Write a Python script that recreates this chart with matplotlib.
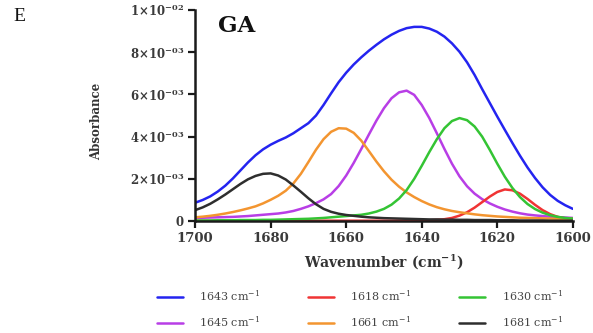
import matplotlib
matplotlib.use("Agg")
import matplotlib.pyplot as plt

# Wavenumber grid (cm^-1) shared by all traces, 1700 -> 1600 in steps of 2
wavenumber = [1700, 1698, 1696, 1694, 1692, 1690, 1688, 1686, 1684, 1682,
              1680, 1678, 1676, 1674, 1672, 1670, 1668, 1666, 1664, 1662,
              1660, 1658, 1656, 1654, 1652, 1650, 1648, 1646, 1644, 1642,
              1640, 1638, 1636, 1634, 1632, 1630, 1628, 1626, 1624, 1622,
              1620, 1618, 1616, 1614, 1612, 1610, 1608, 1606, 1604, 1602,
              1600]

# Absorbance values in units of 1e-3
band_1643 = [0.87, 1.00, 1.17, 1.40, 1.68, 2.02, 2.40, 2.78, 3.12, 3.40,
             3.62, 3.80, 3.96, 4.16, 4.40, 4.64, 5.00, 5.50, 6.05, 6.58,
             7.03, 7.42, 7.76, 8.07, 8.35, 8.61, 8.83, 9.01, 9.14, 9.20,
             9.20, 9.12, 8.97, 8.74, 8.42, 8.02, 7.52, 6.92, 6.25, 5.60,
             4.95, 4.32, 3.70, 3.10, 2.54, 2.04, 1.60, 1.24, 0.96, 0.75,
             0.58]
band_1645 = [0.15, 0.16, 0.17, 0.18, 0.19, 0.20, 0.22, 0.24, 0.27, 0.30,
             0.33, 0.36, 0.41, 0.48, 0.58, 0.70, 0.85, 1.03, 1.28, 1.66,
             2.16, 2.76, 3.42, 4.10, 4.76, 5.35, 5.82, 6.10, 6.18, 5.98,
             5.50, 4.88, 4.16, 3.42, 2.72, 2.12, 1.65, 1.30, 1.04, 0.84,
             0.68, 0.55, 0.45, 0.37, 0.31, 0.27, 0.24, 0.21, 0.19, 0.17,
             0.15]
band_1618 = [0.01, 0.01, 0.01, 0.01, 0.01, 0.01, 0.01, 0.01, 0.01, 0.01,
             0.01, 0.01, 0.01, 0.01, 0.01, 0.02, 0.02, 0.02, 0.02, 0.02,
             0.02, 0.02, 0.02, 0.02, 0.02, 0.02, 0.02, 0.03, 0.03, 0.03,
             0.03, 0.04, 0.06, 0.09, 0.15, 0.26, 0.42, 0.64, 0.90, 1.16,
             1.38, 1.50, 1.46, 1.30, 1.05, 0.77, 0.52, 0.33, 0.20, 0.13,
             0.10]
band_1661 = [0.18, 0.21, 0.25, 0.30, 0.36, 0.43, 0.51, 0.60, 0.70, 0.84,
             1.01, 1.20, 1.44, 1.78, 2.24, 2.80, 3.38, 3.88, 4.23, 4.40,
             4.38, 4.18, 3.81, 3.32, 2.82, 2.36, 1.96, 1.63, 1.36, 1.14,
             0.95, 0.79, 0.66, 0.56, 0.48, 0.42, 0.37, 0.32, 0.28, 0.25,
             0.22, 0.20, 0.18, 0.16, 0.15, 0.14, 0.13, 0.12, 0.11, 0.10,
             0.10]
band_1630 = [0.03, 0.03, 0.03, 0.04, 0.04, 0.04, 0.05, 0.05, 0.05, 0.06,
             0.06, 0.07, 0.08, 0.09, 0.10, 0.11, 0.13, 0.15, 0.18, 0.21,
             0.24, 0.27, 0.30, 0.36, 0.45, 0.58, 0.78, 1.07, 1.47, 2.00,
             2.62, 3.27, 3.88, 4.40, 4.74, 4.88, 4.78, 4.48, 4.00, 3.38,
             2.72, 2.10, 1.57, 1.14, 0.81, 0.57, 0.40, 0.28, 0.20, 0.15,
             0.12]
band_1681 = [0.52, 0.65, 0.82, 1.03, 1.26, 1.51, 1.76, 1.98, 2.14, 2.24,
             2.26, 2.16, 1.97, 1.69, 1.39, 1.08, 0.80, 0.58, 0.44, 0.35,
             0.29, 0.25, 0.21, 0.18, 0.16, 0.14, 0.13, 0.12, 0.11, 0.10,
             0.09, 0.08, 0.08, 0.07, 0.07, 0.06, 0.06, 0.05, 0.05, 0.05,
             0.04, 0.04, 0.04, 0.03, 0.03, 0.03, 0.03, 0.02, 0.02, 0.02,
             0.02]

series_labels = ["1643", "1645", "1618", "1661", "1630", "1681"]
series_values = [band_1643, band_1645, band_1618, band_1661, band_1630, band_1681]
series_colors = ["#2424f0", "#b83ee6", "#f03434", "#f39530", "#34c434", "#2e2e2e"]

x_ticks = [1700, 1680, 1660, 1640, 1620, 1600]
y_ticks = [0, 2e-3, 4e-3, 6e-3, 8e-3, 1e-2]
y_tick_labels = ["0",
                 r"2×10$^{\mathregular{-03}}$",
                 r"4×10$^{\mathregular{-03}}$",
                 r"6×10$^{\mathregular{-03}}$",
                 r"8×10$^{\mathregular{-03}}$",
                 r"1×10$^{\mathregular{-02}}$"]

plt.rcParams["font.family"] = ["DejaVu Serif"]
plt.rcParams["mathtext.fontset"] = "dejavuserif"

fig = plt.figure(figsize=(5.93, 3.33), dpi=100)
ax = fig.add_axes([0.329, 0.336, 0.637, 0.634])

lines = {}
for lab, vals, col in zip(series_labels, series_values, series_colors):
    ln, = ax.plot(wavenumber, [v * 1e-3 for v in vals], color=col, lw=1.8,
                  solid_capstyle="round", solid_joinstyle="round",
                  label=lab + r" cm$^{\mathregular{-1}}$")
    lines[lab] = ln

ax.set_xlim(1700, 1600)
ax.set_ylim(0, 1e-2)
ax.set_xticks(x_ticks)
ax.set_xticklabels([str(t) for t in x_ticks])
ax.set_yticks(y_ticks)
ax.set_yticklabels(y_tick_labels)

for side in ("top", "right"):
    ax.spines[side].set_visible(False)
for side in ("left", "bottom"):
    ax.spines[side].set_linewidth(1.8)
    ax.spines[side].set_color("#1a1a1a")
ax.tick_params(axis="both", direction="out", length=5, width=1.6,
               colors="#1a1a1a", pad=3)
ax.tick_params(axis="x", labelsize=9.5)
ax.tick_params(axis="y", labelsize=8.5)
for t in ax.get_xticklabels() + ax.get_yticklabels():
    t.set_fontweight("bold")
    t.set_color("#3a3a3a")

ax.set_xlabel(r"Wavenumber (cm$^{\mathregular{-1}}$)", fontsize=10,
              fontweight="bold", color="#333333")
ax.xaxis.set_label_coords(0.5, -0.148)
ax.set_ylabel("Absorbance", fontsize=8.5, fontweight="bold",
              color="#333333")
ax.yaxis.set_label_coords(-0.243, 0.474)

ax.text(0.06, 0.975, "GA", transform=ax.transAxes, fontsize=16.5,
        fontweight="bold", va="top", ha="left", color="#111111")
fig.text(0.022, 0.95, "E", fontsize=14, va="center", ha="left",
         family="Liberation Serif", color="#111111")

# legend laid out column-wise: two entries per column
leg_order = ["1643", "1645", "1618", "1661", "1630", "1681"]
fig.legend([lines[k] for k in leg_order],
           [lines[k].get_label() for k in leg_order],
           ncol=3, loc="center", bbox_to_anchor=(0.607, 0.072),
           frameon=False, fontsize=8, handlelength=2.3,
           handletextpad=1.5, columnspacing=4.3, labelspacing=1.05,
           labelcolor="#444444")

fig.savefig("out.png", dpi=100)
